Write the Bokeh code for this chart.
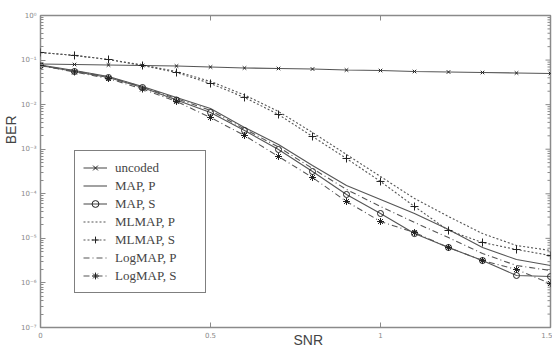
import math
from bokeh.plotting import figure
from bokeh.models import FixedTicker, CustomJSTickFormatter, Title
from bokeh.embed import file_html
from bokeh.resources import INLINE

snr = [0.0, 0.1, 0.2, 0.3, 0.4, 0.5, 0.6, 0.7, 0.8, 0.9, 1.0, 1.1, 1.2, 1.3, 1.4, 1.5]

uncoded = [0.0816, 0.0796, 0.0775, 0.0755, 0.0736, 0.0699, 0.0664, 0.0647,
           0.0630, 0.0598, 0.0583, 0.0554, 0.0540, 0.0526, 0.0513, 0.0500]
map_p = [0.0775, 0.0583, 0.0428, 0.0255, 0.0145, 0.00818, 0.00307, 0.00128,
         4.31e-4, 1.53e-4, 7.45e-5, 3.61e-5, 1.58e-5, 6.24e-6, 3.35e-6, 2.46e-6]
map_s = [0.0755, 0.0554, 0.0406, 0.0242, 0.0127, 0.00667, 0.00263, 9.85e-4,
         3.16e-4, 9.64e-5, 3.61e-5, 1.28e-5, 6.24e-6, 3.18e-6, 1.47e-6, 1.39e-6]
mlmap_p = [0.148, 0.127, 0.103, 0.0775, 0.0554, 0.0331, 0.0165, 0.00702,
           0.00237, 7.61e-4, 2.44e-4, 7.84e-5, 3.09e-5, 1.28e-5, 6.91e-6, 5.34e-6]
mlmap_s = [0.148, 0.127, 0.103, 0.0755, 0.0526, 0.0298, 0.0145, 0.00601,
           0.00193, 6.19e-4, 1.89e-4, 5.18e-5, 1.50e-5, 8.07e-6, 5.62e-6, 4.12e-6]
logmap_p = [0.0755, 0.0569, 0.0417, 0.0249, 0.0137, 0.00739, 0.00284, 0.00112,
            3.69e-4, 1.25e-4, 5.18e-5, 2.27e-5, 1.04e-5, 4.57e-6, 2.46e-6, 1.90e-6]
logmap_s = [0.0755, 0.0540, 0.0386, 0.0224, 0.0118, 0.00515, 0.00203, 6.86e-4,
            2.32e-4, 6.71e-5, 2.39e-5, 1.35e-5, 6.24e-6, 3.18e-6, 2.00e-6, 9.70e-7]

x_ticks = [0, 0.5, 1, 1.5]
y_exponents = [-7, -6, -5, -4, -3, -2, -1, 0]

LINE = "#555555"
MARK = "#222222"
GREY = "#8a8a8a"

X_MIN, X_MAX = 0, 1.5
Y_MIN, Y_MAX = 1e-7, 1

p = figure(width=552, height=349, output_backend="svg", toolbar_location=None,
           y_axis_type="log", x_range=(X_MIN, X_MAX), y_range=(Y_MIN, Y_MAX),
           min_border_left=38, min_border_right=2, min_border_top=15,
           min_border_bottom=22)
p.background_fill_color = "white"
p.border_fill_color = "white"
p.outline_line_color = GREY
p.outline_line_width = 1.5
p.xgrid.visible = False
p.ygrid.visible = False

major_y = [10.0 ** e for e in y_exponents]
minor_y = [k * 10.0 ** e for e in y_exponents[:-1] for k in range(2, 10)]

fmt = CustomJSTickFormatter(code="""
const e = Math.round(Math.log10(tick));
const sup = {'-':'\u207b','0':'\u2070','1':'\u00b9','2':'\u00b2','3':'\u00b3','4':'\u2074','5':'\u2075','6':'\u2076','7':'\u2077','8':'\u2078','9':'\u2079'};
return '10' + String(e).split('').map(c => sup[c]).join('');
""")

def style_axis(ax):
    ax.axis_line_color = None
    ax.major_tick_in = 5
    ax.major_tick_out = 0
    ax.minor_tick_in = 3
    ax.minor_tick_out = 0
    ax.major_tick_line_color = GREY
    ax.minor_tick_line_color = GREY
    ax.major_label_text_color = "#888888"
    ax.major_label_text_font = "DejaVu Sans"
    ax.major_label_text_font_size = "7px"

yax = p.yaxis[0]
yax.ticker = FixedTicker(ticks=major_y, minor_ticks=minor_y)
yax.formatter = fmt
yax.major_label_standoff = 4
style_axis(yax)

xax = p.xaxis[0]
xax.ticker = FixedTicker(ticks=x_ticks, minor_ticks=[])
xax.major_label_standoff = 4
style_axis(xax)

# mirrored tick marks on right and top edges (half of each dash is clipped by the frame)
p.scatter([X_MAX] * len(major_y), major_y, marker="dash", size=10, line_color=GREY)
p.scatter([X_MAX] * len(minor_y), minor_y, marker="dash", size=6, line_color=GREY)
inner_x = x_ticks[1:-1]
p.scatter(inner_x, [Y_MAX] * len(inner_x), marker="dash", angle=math.pi / 2,
          size=10, line_color=GREY)

# curves
p.line(snr, uncoded, line_color=LINE, line_width=1.1, legend_label="uncoded")
p.scatter(snr, uncoded, marker="x", size=5, line_color=MARK, legend_label="uncoded")

p.line(snr, map_p, line_color=LINE, line_width=1.1, legend_label="MAP, P")

p.line(snr, map_s, line_color=LINE, line_width=1.1, legend_label="MAP, S")
p.scatter(snr, map_s, marker="circle", size=6, line_color=MARK, fill_color=None,
          legend_label="MAP, S")

p.line(snr, mlmap_p, line_color=LINE, line_width=1.1, line_dash="2 2",
       legend_label="MLMAP, P")

p.line(snr, mlmap_s, line_color=LINE, line_width=1.1, line_dash="2 2",
       legend_label="MLMAP, S")
p.scatter(snr, mlmap_s, marker="cross", size=8, line_color=MARK,
          legend_label="MLMAP, S")

p.line(snr, logmap_p, line_color=LINE, line_width=1.1, line_dash="6 3 1 3",
       legend_label="LogMAP, P")

p.line(snr, logmap_s, line_color=LINE, line_width=1.1, line_dash="6 3 1 3",
       legend_label="LogMAP, S")
p.scatter(snr, logmap_s, marker="asterisk", size=7, line_color=MARK,
          legend_label="LogMAP, S")

leg = p.legend[0]
leg.location = (34, 34)
leg.border_line_color = "black"
leg.border_line_width = 1.5
leg.background_fill_alpha = 1.0
leg.label_text_font = "Liberation Serif"
leg.label_text_font_size = "13px"
leg.glyph_width = 24
leg.glyph_height = 17
leg.label_height = 17
leg.label_width = 82
leg.spacing = 1
leg.padding = 8
leg.margin = 0
leg.label_standoff = 8

# axis titles as side titles (placed along the edge with offsets)
p.add_layout(Title(text="SNR", align="left", offset=253, standoff=-17,
                   vertical_align="top",
                   text_font="Liberation Sans", text_font_size="14px",
                   text_font_style="normal"), "below")
p.add_layout(Title(text="BER", align="right", offset=100, standoff=0,
                   text_font="Liberation Sans", text_font_size="14px",
                   text_font_style="normal"), "left")

open("out.html", "w").write(file_html(p, INLINE))
